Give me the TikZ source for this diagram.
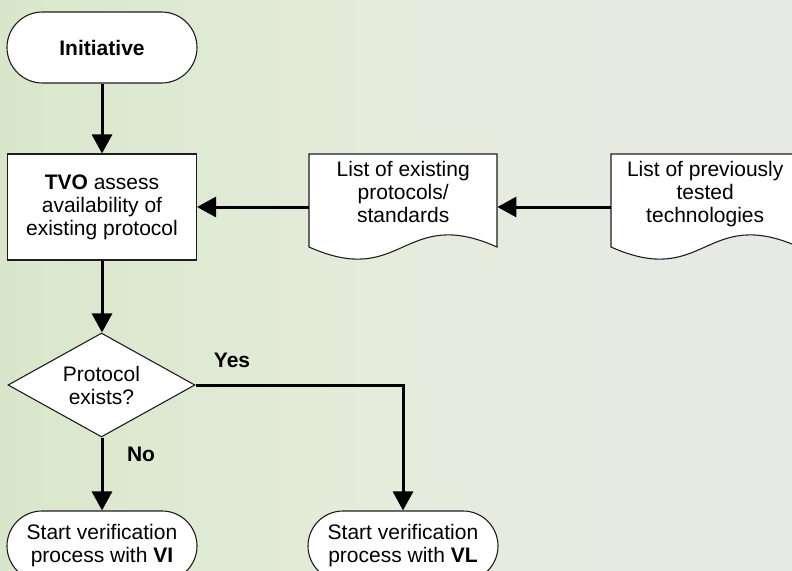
\documentclass[tikz,border=0pt]{standalone}
\usepackage{fontspec}
\setmainfont{Liberation Sans}
\usetikzlibrary{arrows.meta,shapes.geometric,calc}
\definecolor{bgL}{RGB}{216,231,203}
\definecolor{bgM}{RGB}{230,236,220}
\definecolor{bgR}{RGB}{231,233,229}
\definecolor{edge}{RGB}{30,30,30}
\begin{document}
\begin{tikzpicture}[x=1pt,y=-1pt,
  every node/.style={font=\fontsize{21}{23}\selectfont},
  shapeline/.style={draw=edge, line width=1.1pt, fill=white},
  stadium/.style={shapeline, rounded corners=#1, minimum width=190pt, minimum height=2*#1, align=center, inner sep=0pt},
  procbox/.style={shapeline, minimum width=189pt, minimum height=106pt, align=center, inner sep=0pt},
  decision/.style={shapeline, diamond, shape aspect=1.8, minimum width=187pt, minimum height=104pt, align=center, inner sep=0pt},
  doctext/.style={anchor=north west, minimum width=188pt, inner xsep=0pt, inner ysep=7pt, align=center},
  flow/.style={draw=black, line width=3pt, -{Triangle[length=19pt,width=20pt]}},
  lbl/.style={font=\fontsize{21}{23}\selectfont\bfseries, inner sep=0pt}
]
\useasboundingbox (0,0) rectangle (792,570);
\clip (0,0) rectangle (792,570);
\shade[left color=bgL, right color=bgR, middle color=bgM] (0,0) rectangle (792,570);

% nodes
\node[stadium=35.5pt] (init) at (102,47.5) {\textbf{Initiative}};
\node[procbox] (tvo) at (102,207) {\textbf{TVO} assess\\availability of\\existing protocol};

\coordinate (d1) at (309,154);
\draw[shapeline] (d1) -- ++(0,93) .. controls +(94,42) and +(-94,-42) .. ++(188,0) -- ($(d1)+(188,0)$) -- cycle;
\node[doctext] (doc1) at (d1) {List of existing\\protocols/\\standards};

\coordinate (d2) at (611,154);
\draw[shapeline] (d2) -- ++(0,93) .. controls +(94,42) and +(-94,-42) .. ++(188,0) -- ($(d2)+(188,0)$) -- cycle;
\node[doctext] (doc2) at (d2) {List of previously\\tested\\technologies};

\node[decision] (dia) at (101.5,385) {Protocol\\exists?};
\node[stadium=35pt] (vi) at (102,546) {Start verification\\process with \textbf{VI}};
\node[stadium=35pt] (vl) at (403,546) {Start verification\\process with \textbf{VL}};

% connectors
\draw[flow] (init.south) -- (init.south |- tvo.north);
\draw[flow] (doc2.west |- tvo.east) -- (doc1.east |- tvo.east);
\draw[flow] (doc1.west |- tvo.east) -- (tvo.east);
\draw[flow] (tvo.south) -- (tvo.south |- dia.north);
\draw[flow] (vi.north |- dia.south) -- (vi.north);
\draw[flow] (dia.east) -| (vl.north);

% labels
\node[lbl] (yes) at (232,360) {Yes};
\node[lbl] (no) at (141,454) {No};
\end{tikzpicture}
\end{document}
